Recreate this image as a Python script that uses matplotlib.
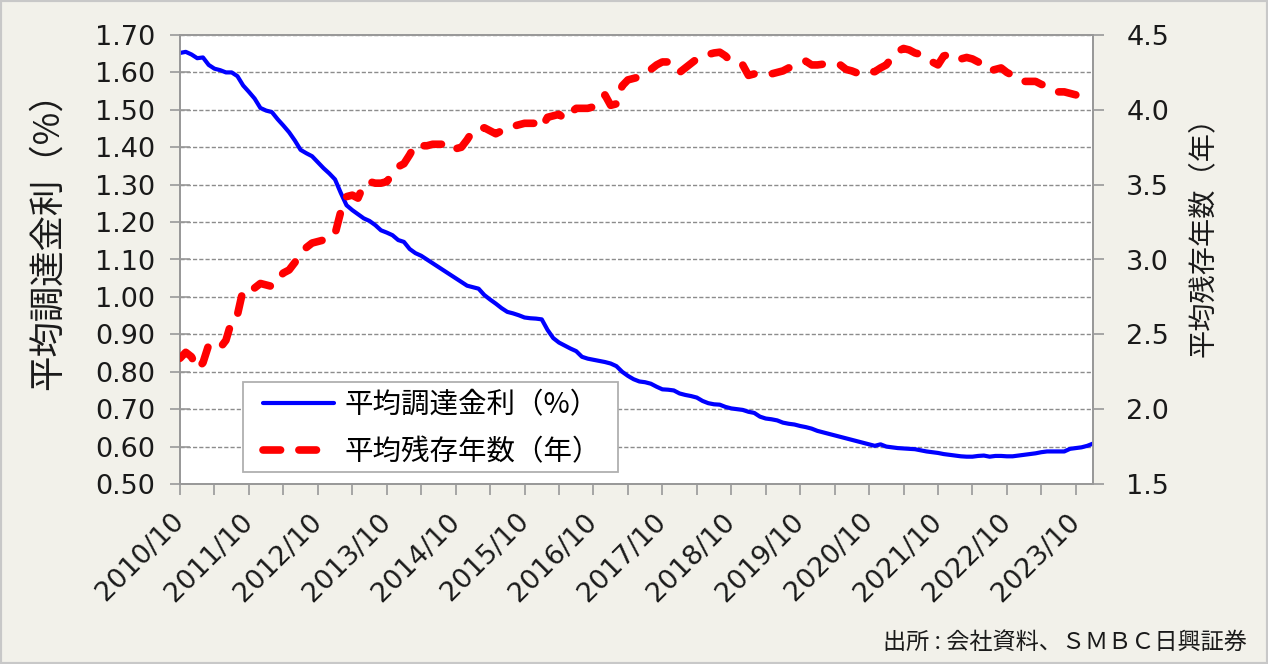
import numpy as np
import matplotlib
matplotlib.use("Agg")
import matplotlib.pyplot as plt
from matplotlib.patches import Rectangle

# ---- data (monthly, starting 2010/10) ----
rate = [1.652, 1.655, 1.648, 1.638, 1.640, 1.620, 1.610, 1.606, 1.600, 1.600,
        1.590, 1.565, 1.548, 1.530, 1.505, 1.498, 1.494, 1.475, 1.458, 1.440,
        1.418, 1.393, 1.384, 1.376, 1.360, 1.344, 1.330, 1.314, 1.278, 1.245,
        1.232, 1.221, 1.210, 1.203, 1.192, 1.178, 1.172, 1.165, 1.152, 1.147,
        1.128, 1.117, 1.110, 1.100, 1.090, 1.080, 1.070, 1.060, 1.050, 1.040,
        1.030, 1.026, 1.022, 1.005, 0.993, 0.982, 0.970, 0.960, 0.956, 0.951,
        0.945, 0.943, 0.942, 0.940, 0.912, 0.890, 0.878, 0.870, 0.862, 0.855,
        0.840, 0.835, 0.832, 0.829, 0.826, 0.822, 0.815, 0.800, 0.789, 0.780,
        0.774, 0.772, 0.768, 0.760, 0.753, 0.752, 0.750, 0.742, 0.738, 0.735,
        0.731, 0.722, 0.716, 0.713, 0.712, 0.706, 0.702, 0.700, 0.698, 0.693,
        0.690, 0.680, 0.675, 0.673, 0.670, 0.664, 0.661, 0.659, 0.655, 0.652,
        0.648, 0.642, 0.638, 0.634, 0.630, 0.626, 0.622, 0.618, 0.614, 0.610,
        0.606, 0.602, 0.606, 0.600, 0.598, 0.596, 0.595, 0.594, 0.593, 0.590,
        0.587, 0.585, 0.583, 0.580, 0.578, 0.576, 0.574, 0.573, 0.573, 0.575,
        0.576, 0.573, 0.575, 0.575, 0.574, 0.574, 0.576, 0.578, 0.580, 0.582,
        0.585, 0.587, 0.587, 0.587, 0.587, 0.594, 0.596, 0.598, 0.602, 0.608]

years = [2.34, 2.38, 2.35, 2.27, 2.31, 2.43, 2.42, 2.41, 2.46, 2.59,
         2.63, 2.80, 2.80, 2.81, 2.84, 2.83, 2.82, 2.87, 2.91, 2.93,
         2.98, 3.04, 3.08, 3.11, 3.12, 3.13, 3.14, 3.17, 3.32, 3.42,
         3.43, 3.41, 3.50, 3.52, 3.51, 3.51, 3.52, 3.57, 3.62, 3.64,
         3.70, 3.77, 3.76, 3.76, 3.77, 3.77, 3.77, 3.78, 3.74, 3.75,
         3.80, 3.86, 3.87, 3.88, 3.86, 3.84, 3.86, 3.88, 3.89, 3.90,
         3.91, 3.91, 3.91, 3.88, 3.95, 3.96, 3.97, 3.94, 3.98, 4.01,
         4.01, 4.01, 4.02, 4.05, 4.10, 4.03, 4.04, 4.16, 4.20, 4.21,
         4.22, 4.25, 4.27, 4.30, 4.32, 4.32, 4.30, 4.25, 4.28, 4.31,
         4.34, 4.36, 4.37, 4.38, 4.385, 4.36, 4.32, 4.31, 4.30, 4.23,
         4.24, 4.24, 4.24, 4.24, 4.25, 4.26, 4.28, 4.29, 4.31, 4.325,
         4.30, 4.30, 4.305, 4.305, 4.305, 4.30, 4.27, 4.26, 4.245, 4.26,
         4.255, 4.255, 4.28, 4.30, 4.35, 4.39, 4.41, 4.40, 4.38, 4.37,
         4.345, 4.32, 4.30, 4.36, 4.37, 4.34, 4.34, 4.35, 4.34, 4.32,
         4.29, 4.26, 4.27, 4.28, 4.25, 4.23, 4.20, 4.19, 4.19, 4.19,
         4.17, 4.16, 4.14, 4.12, 4.12, 4.11, 4.10, 4.08]

tick_labels = ['2010/10', '2011/10', '2012/10', '2013/10', '2014/10', '2015/10',
               '2016/10', '2017/10', '2018/10', '2019/10', '2020/10', '2021/10',
               '2022/10', '2023/10']

label_rate = '平均調達金利（%）'
label_years = '平均残存年数（年）'
source_text = '出所 : 会社資料、ＳＭＢＣ日興証券'

JP = ['Noto Sans CJK JP', 'DejaVu Sans']
BG = '#F2F1EA'
TXT = '#1a1a1a'

fig = plt.figure(figsize=(12.68, 6.64), dpi=100, facecolor=BG)
ax = fig.add_axes([180/1268, 1 - 484/664, 913/1268, 449/664])
ax.set_facecolor('white')
ax2 = ax.twinx()

x_rate = np.arange(len(rate))
x_years = np.arange(len(years))

l1, = ax.plot(x_rate, rate, color='#0000FF', lw=3.0, solid_capstyle='round',
              solid_joinstyle='round', zorder=3)
l2, = ax2.plot(x_years, years, color='#FF0000', lw=5.5, dash_capstyle='round',
               dash_joinstyle='round', zorder=3)
l2.set_dashes([2.3, 2.4])

ax.set_xlim(0, 159)
ax.set_ylim(0.50, 1.70)
ax2.set_ylim(1.5, 4.5)

yt = np.arange(0.5, 1.701, 0.1)
ax.set_yticks(yt)
ax.set_yticklabels([f'{v:.2f}' for v in yt])
yt2 = np.arange(1.5, 4.51, 0.5)
ax2.set_yticks(yt2)
ax2.set_yticklabels([f'{v:.1f}' for v in yt2])

ax.set_xticks(np.arange(0, 160, 6))
ax.set_xticklabels(['' for _ in range(0, 160, 6)])
lab_pos = np.arange(0, 12 * len(tick_labels), 12)
for p, t in zip(lab_pos, tick_labels):
    ax.text(p, -0.075, t, transform=ax.get_xaxis_transform(), rotation=45,
            ha='right', va='center', rotation_mode='anchor', fontsize=19.5,
            color=TXT)

ax.grid(axis='y', color='#8c8c8c', linestyle=(0, (3, 1.5)), lw=1.0)
ax.set_axisbelow(True)

for a in (ax, ax2):
    for s in a.spines.values():
        s.set_color('#999999')
        s.set_linewidth(1.3)

ax.tick_params(axis='y', direction='inout', length=14, width=1.2, color='#999999',
               labelsize=19.5, labelcolor=TXT, pad=11)
ax.tick_params(axis='x', direction='out', length=8, width=1.2, color='#999999')
ax2.tick_params(axis='y', direction='out', length=8, width=1.2, color='#999999',
                labelsize=19.5, labelcolor=TXT, pad=16)

ax.set_ylabel(label_rate, family=JP, fontsize=25.5, color=TXT)
ax.yaxis.set_label_coords(-0.125, 0.561)
ax2.set_ylabel(label_years, family=JP, fontsize=20.3, color=TXT)
ax2.yaxis.set_label_coords(1.104, 0.565)

# legend frame and entries
ax2.add_patch(Rectangle((0.0687, 0.0267), 0.4113, 0.2004, transform=ax2.transAxes,
                        facecolor='white', edgecolor='#b0b0b0', lw=1.3, zorder=4))
leg = ax2.legend([l1, l2], [label_rate, label_years],
                 prop={'family': JP, 'size': 20.5},
                 loc='center left', bbox_to_anchor=(0.0909, 0.124),
                 frameon=False, handlelength=2.5, borderpad=0,
                 labelspacing=0.6, handletextpad=0.35, borderaxespad=0)
leg.set_zorder(5)

fig.text(1247/1268, 1 - 642/664, source_text, family=JP, fontsize=16.7,
         ha='right', va='center', color=TXT)

fig.patches.append(Rectangle((0, 0), 1, 1, transform=fig.transFigure,
                             fill=False, edgecolor='#c8c8c8', lw=3))

fig.savefig('out.png', dpi=100, facecolor=BG)
